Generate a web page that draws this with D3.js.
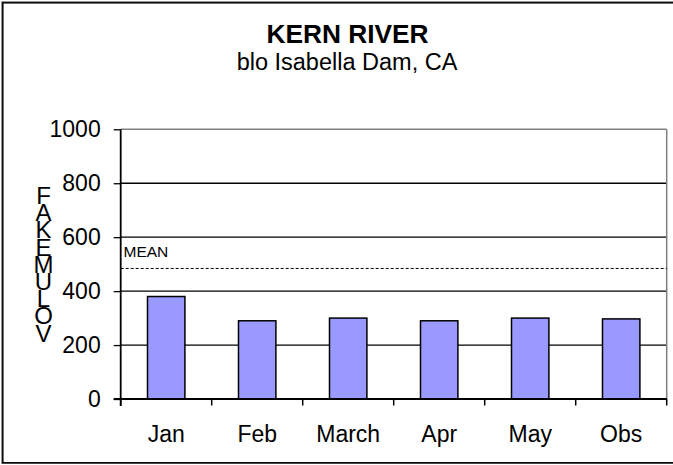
<!DOCTYPE html>
<html><head><meta charset="utf-8">
<script src="https://cdn.jsdelivr.net/npm/d3@7"></script>
<style>html,body{margin:0;padding:0;background:#fff;} svg{display:block;font-family:Arial,"Liberation Sans",sans-serif;}</style>
</head><body>
<svg id="c" width="673" height="465"></svg>
<script>
const categories = ["Jan","Feb","March","Apr","May","Obs"];
const values = [380, 290, 300, 290, 300, 297];
const meanValue = 484;
const yTicks = [0, 200, 400, 600, 800, 1000];
const yLabelLetters = ["F","A","K","E","M","U","L","O","V"];
const titleText = "KERN RIVER";
const subtitleText = "blo Isabella Dam, CA";
const meanLabel = "MEAN";

const svg = d3.select("#c");
const L = 120.7, R = 666.7, T = 129.3, B = 399;

// outer border
svg.append("rect").attr("x",1.5).attr("y",1.5).attr("width",690).attr("height",462)
  .attr("fill","none").attr("stroke","#999").attr("stroke-width",1);
svg.append("rect").attr("x",2.8).attr("y",2.8).attr("width",690).attr("height",460)
  .attr("fill","#fff").attr("stroke","#000").attr("stroke-width",1.5);

const x = d3.scaleBand().domain(categories).range([L, R]).paddingInner(0.589).paddingOuter(0.2945);
const y = d3.scaleLinear().domain([0, 1000]).range([B, T]);

// gridlines
svg.append("g").selectAll("line").data(yTicks.filter(d => d > 0 && d < 1000)).join("line")
  .attr("x1", L).attr("x2", R).attr("y1", d => y(d)).attr("y2", d => y(d))
  .attr("stroke","#000").attr("stroke-width",1.3);
// plot border top/right (gray)
svg.append("line").attr("x1",L).attr("x2",R).attr("y1",y(1000)).attr("y2",y(1000))
  .attr("stroke","#808080").attr("stroke-width",1.5);
svg.append("line").attr("x1",R).attr("x2",R).attr("y1",y(1000)).attr("y2",B)
  .attr("stroke","#808080").attr("stroke-width",1.5);

// mean line
svg.append("line").attr("x1",L).attr("x2",R).attr("y1",y(meanValue)).attr("y2",y(meanValue))
  .attr("stroke","#000").attr("stroke-width",1).attr("stroke-dasharray","3,2");
svg.append("text").attr("x",123.5).attr("y",256.7).attr("font-size",15.5).text(meanLabel);

// bars
svg.append("g").selectAll("rect").data(values).join("rect")
  .attr("x",(d,i) => x(categories[i])).attr("width", x.bandwidth())
  .attr("y", d => y(d)).attr("height", d => B - y(d))
  .attr("fill","#9999FF").attr("stroke","#000").attr("stroke-width",1.5);

// y axis
const yAxis = d3.axisLeft(y).tickValues(yTicks).tickSize(7).tickPadding(13).tickFormat(d3.format("d"));
const gy = svg.append("g").attr("transform",`translate(${L},0)`).call(yAxis);
gy.select(".domain").attr("stroke","#000").attr("stroke-width",1.8).attr("d",`M-0,${T}V${B+7}`);
gy.selectAll(".tick line").attr("stroke","#000").attr("stroke-width",1.3);
gy.selectAll(".tick text").attr("font-size",23).attr("font-family","Arial, 'Liberation Sans', sans-serif").attr("fill","#000");

// x axis
const xEdges = categories.map(c => x(c) - x.step()*x.paddingOuter()).concat([R]);
svg.append("line").attr("x1",L-7).attr("x2",R).attr("y1",B).attr("y2",B).attr("stroke","#000").attr("stroke-width",1.8);
svg.append("g").selectAll("line").data(xEdges).join("line")
  .attr("x1",d=>d).attr("x2",d=>d).attr("y1",B).attr("y2",B+6.5).attr("stroke","#000").attr("stroke-width",1.5);
svg.append("g").selectAll("text").data(categories).join("text")
  .attr("x", d => x(d) + x.bandwidth()/2).attr("y", 441.7).attr("text-anchor","middle")
  .attr("font-size",23).text(d => d);

// titles
svg.append("text").attr("x",347.5).attr("y",43.3).attr("text-anchor","middle")
  .attr("font-size",26.3).attr("font-weight","bold").text(titleText);
svg.append("text").attr("x",347).attr("y",70).attr("text-anchor","middle")
  .attr("font-size",23.5).text(subtitleText);

// y label stacked letters (one text element, one tspan per letter)
const yl = svg.append("text").attr("x",43.5).attr("y",204).attr("text-anchor","middle").attr("font-size",24);
yl.selectAll("tspan").data(yLabelLetters).join("tspan")
  .attr("x",43.5).attr("dy",(d,i) => i === 0 ? 0 : 17.2).text(d => d);
</script>
</body></html>
